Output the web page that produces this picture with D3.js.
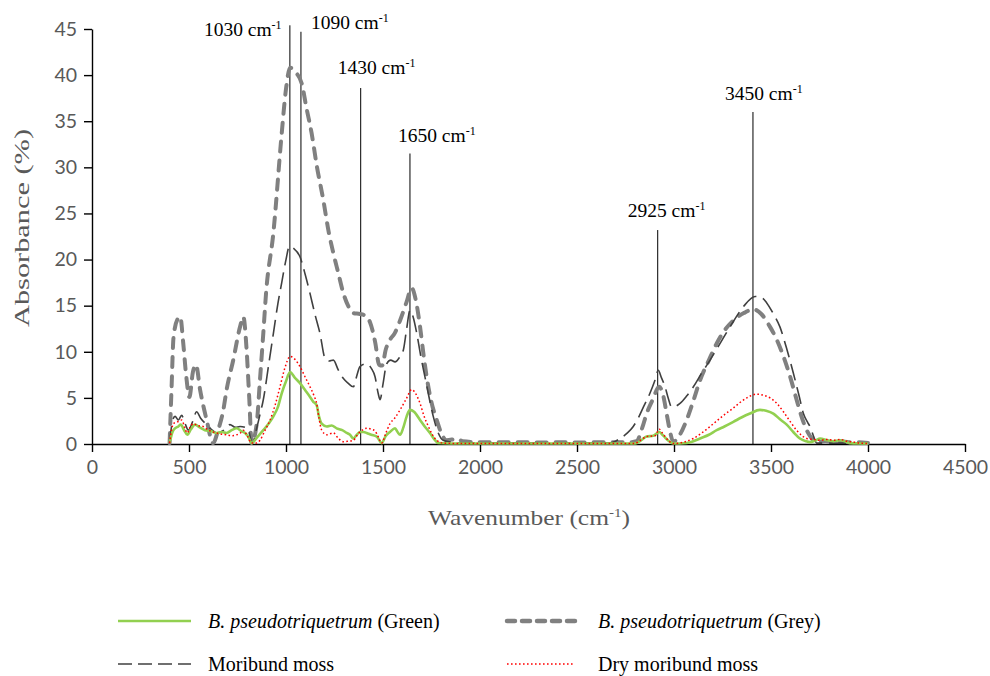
<!DOCTYPE html>
<html>
<head>
<meta charset="utf-8">
<script src="https://cdn.jsdelivr.net/npm/d3@7"></script>
<style>
  body { margin: 0; background: #fff; }
  svg { display: block; }
</style>
</head>
<body>
<div class="chart"></div>
<script>
// FTIR absorbance spectra, four moss samples

var xTicks = [0, 500, 1000, 1500, 2000, 2500, 3000, 3500, 4000, 4500];
var yTicks = [0, 5, 10, 15, 20, 25, 30, 35, 40, 45];

// B. pseudotriquetrum (Green)
var greenWn  = [400,415,428,445,457,475,491,510,531,555,582,610,643,670,694,720,746,770,789,805,823,850,883,910,935,958,978,1000,1021,1045,1072,1100,1124,1140,1158,1170,1184,1210,1235,1261,1290,1313,1330,1347,1365,1381,1400,1416,1440,1468,1493,1515,1536,1562,1575,1588,1605,1622,1639,1660,1691,1715,1742,1765,1785,1850,2000,2400,2800,2830,2859,2893,2924,2940,2954,2975,2996,3030,3065,3100,3134,3180,3220,3260,3306,3350,3392,3443,3475,3512,3545,3581,3615,3649,3680,3701,3730,3753,3790,3821,3856,3880,3907,4000];
var greenAbs = [0.1,1.3,1.7,1.9,2.1,1.5,1.0,1.6,2.1,1.8,1.5,1.4,1.2,1.3,1.2,1.5,1.7,1.4,1.2,0.8,0.1,0.7,1.5,2.2,3.0,4.0,5.5,6.8,7.8,7.2,6.6,5.8,5.1,4.6,4.2,3.0,2.2,1.9,2.0,1.7,1.5,1.2,1.0,0.6,1.0,1.3,1.3,1.2,1.0,0.8,0.1,0.9,1.3,1.7,1.3,1.0,1.8,3.0,3.7,3.5,2.6,1.9,1.2,0.5,0.1,0.05,0.05,0.05,0.05,0.4,0.8,0.9,1.3,1.0,0.7,0.3,0.05,0.05,0.1,0.3,0.6,1.0,1.5,1.9,2.4,2.9,3.3,3.7,3.6,3.3,2.7,2.1,1.3,0.6,0.3,0.2,0.4,0.6,0.4,0.3,0.4,0.3,0.1,0.05];

// B. pseudotriquetrum (Grey)
var greyWn  = [400,410,420,440,455,470,485,502,520,536,557,591,624,650,677,694,728,763,780,797,811,823,849,866,883,897,935,978,1000,1021,1050,1081,1105,1132,1160,1192,1220,1244,1270,1295,1320,1347,1381,1410,1433,1460,1480,1495,1515,1536,1560,1588,1620,1648,1670,1691,1710,1725,1750,1777,1800,1828,1860,1880,1910,2000,2100,2200,2300,2400,2500,2600,2700,2780,2807,2840,2859,2890,2924,2945,2962,2980,2996,3030,3065,3100,3134,3180,3220,3260,3306,3360,3409,3450,3495,3530,3564,3600,3632,3660,3684,3710,3736,3780,3820,3860,3900,3950,4000];
var greyAbs = [0.1,6,11.5,13.5,13.8,11,7.5,5.1,7.8,8.6,5.9,2.6,0.1,1.5,3.7,5.9,9.1,12.7,13.8,10.2,4.8,0.1,2.2,7,12,16.3,22.9,33.7,38.5,40.8,40.3,39.1,36.5,33.7,30,26.5,23,20.7,18.5,16.4,15,14.2,14.1,13.9,13.2,11,8.6,8.5,10.3,11.3,12,13.4,15.3,16.9,15.5,12.7,9.5,7.3,4.5,2.6,1.2,0.4,0.5,0.6,0.3,0.2,0.2,0.2,0.15,0.2,0.15,0.2,0.2,0.2,0.3,2.0,3.3,4.8,6.2,5.2,3.3,1.3,0.25,1.0,2.6,4.7,6.9,9.1,10.9,12.3,13.4,14.2,14.6,14.1,12.7,11.3,9.5,7.2,4.8,2.8,1.5,0.6,0.2,0.3,0.2,0.3,0.2,0.2,0.1];

// Moribund moss
var moriWn  = [400,415,428,445,462,480,497,520,539,560,591,615,643,680,711,740,763,790,806,826,850,866,883,910,935,958,978,1000,1017,1040,1072,1100,1124,1150,1175,1201,1222,1244,1270,1296,1320,1347,1365,1381,1416,1440,1459,1475,1485,1500,1519,1540,1562,1585,1605,1622,1639,1655,1674,1695,1716,1740,1759,1785,1810,1850,1900,2200,2600,2670,2722,2760,2790,2820,2842,2876,2900,2919,2935,2954,2970,2988,3010,3031,3065,3100,3140,3186,3240,3289,3358,3418,3450,3478,3510,3546,3580,3615,3645,3667,3690,3701,3720,3736,3800,4000];
var moriAbs = [0.1,2.5,3.0,2.6,3.1,2.2,1.5,2.5,3.5,2.8,2.1,1.6,1.2,1.5,2.1,1.8,1.9,1.8,1.5,0.1,1.8,3.2,4.8,8.5,12,15.2,17.5,20,21.4,21.2,20.3,18.3,16.3,14,12,9.3,9.0,9.1,8.0,7.1,6.6,6.2,7.4,8.4,8.7,8.2,7.3,5.5,4.8,6.5,8.7,9.1,8.9,9.4,10.2,12.5,14.5,13.8,12,9.5,7.3,4.8,3,1.2,0.4,0.2,0.1,0.1,0.1,0.1,0.6,1.2,1.9,3.0,4.0,5.5,6.8,8.0,7.2,6.2,5.0,4.0,4.1,4.4,5.2,6.2,7.6,9.1,11.0,12.7,14.9,16.0,15.9,15.3,14.2,12.7,10.4,7.7,5.2,3.3,2.3,1.9,0.8,0.1,0.1,0.1];

// Dry moribund moss
var dryWn  = [400,410,419,440,462,478,491,505,522,545,573,600,625,660,694,720,746,765,780,800,823,845,866,890,918,945,969,995,1021,1045,1072,1100,1124,1145,1158,1170,1184,1210,1244,1270,1296,1320,1347,1365,1381,1400,1416,1440,1459,1475,1493,1515,1536,1560,1588,1620,1648,1670,1691,1712,1734,1755,1777,1810,1900,2400,2800,2813,2859,2902,2924,2940,2954,2975,2996,3050,3100,3150,3203,3255,3306,3340,3375,3426,3460,3495,3530,3564,3600,3632,3660,3684,3720,3753,3790,3821,3856,3890,3930,3959,4000];
var dryAbs = [0.1,1.5,2.2,2.4,2.6,1.8,1.2,1.8,2.2,2.0,1.9,1.5,1.3,1.1,1.0,0.9,1.0,1.2,1.5,0.9,0.1,0.1,0.4,1.4,2.6,4.3,6.2,8.3,9.5,9.2,8.4,7.2,6.2,5.2,4.4,2.8,1.5,1.0,1.2,0.6,0.25,0.3,0.4,0.9,1.3,1.6,1.7,1.6,1.4,0.8,0.1,1.2,2.2,2.8,3.7,4.9,5.9,5.4,4.4,3.0,1.9,1.0,0.4,0.1,0.05,0.05,0.05,0.2,0.8,0.9,1.6,1.2,0.8,0.3,0.05,0.2,0.6,1.3,2.2,3.1,3.9,4.5,5.0,5.4,5.3,5.0,4.4,3.5,2.4,1.5,0.9,0.6,0.5,0.4,0.5,0.4,0.5,0.3,0.2,0.1,0.05];

// peak markers: label, where the line is drawn, how high it goes
var markerLabels = ['1030', '1090', '1430', '1650', '2925', '3450'];
var markerWn     = [1020, 1077, 1385, 1639, 2916, 3407];
var markerTop    = [45.4, 44.7, 38.6, 31.5, 23.2, 36.0];

var legendNames = ['B. pseudotriquetrum', 'B. pseudotriquetrum', 'Moribund moss', 'Dry moribund moss'];
var legendExtra = [' (Green)', ' (Grey)', '', ''];

var width = 990, height = 676;

var svg = d3.select('.chart').append('svg')
  .attr('width', width)
  .attr('height', height);

var x = d3.scaleLinear().domain([0, 4500]).range([92, 965]);
var y = d3.scaleLinear().domain([0, 45]).range([444, 29]);

var serif = '"Liberation Serif", "Times New Roman", serif';
var tickFont = 'Lato, "Open Sans", sans-serif';

// axes
var yAxis = svg.append('g')
  .attr('transform', 'translate(' + x(0) + ',0)')
  .call(d3.axisLeft(y).tickValues(yTicks).tickFormat(d3.format('d'))
    .tickSize(8).tickSizeOuter(0).tickPadding(7));

var xAxis = svg.append('g')
  .attr('transform', 'translate(0,' + y(0) + ')')
  .call(d3.axisBottom(x).tickValues(xTicks).tickFormat(d3.format('d'))
    .tickSize(8).tickSizeOuter(0).tickPadding(8));

[xAxis, yAxis].forEach(function (g) {
  g.select('.domain').attr('stroke', '#000').attr('stroke-width', 1.4);
  g.selectAll('.tick line').attr('stroke', '#000').attr('stroke-width', 1.4);
  g.selectAll('.tick text')
    .attr('fill', '#595959')
    .style('font-family', tickFont)
    .style('font-size', '19.5px');
});

// axis titles
svg.append('text')
  .attr('transform', 'translate(29,' + 228 + ') rotate(-90)')
  .attr('text-anchor', 'middle')
  .attr('fill', '#595959')
  .attr('textLength', 198)
  .attr('lengthAdjust', 'spacingAndGlyphs')
  .style('font-family', serif)
  .style('font-size', '22px')
  .text('Absorbance (%)');

var xTitle = svg.append('text')
  .attr('x', 428)
  .attr('y', 525)
  .attr('fill', '#595959')
  .attr('textLength', 202)
  .attr('lengthAdjust', 'spacingAndGlyphs')
  .style('font-family', serif)
  .style('font-size', '22px');
xTitle.append('tspan').text('Wavenumber (cm');
xTitle.append('tspan').attr('dy', -8).style('font-size', '13px').text('-1');
xTitle.append('tspan').attr('dy', 8).text(')');

// marker lines
var labelDx = [-86, 10, -23, -12, -30, -28];
var labelDy = [11, -3, -14, -12, -13, -12];

markerWn.forEach(function (wn, i) {
  svg.append('line')
    .attr('x1', x(wn)).attr('x2', x(wn))
    .attr('y1', y(markerTop[i])).attr('y2', y(0))
    .attr('stroke', '#000')
    .attr('stroke-width', 1);

  var t = svg.append('text')
    .attr('x', x(wn) + labelDx[i])
    .attr('y', y(markerTop[i]) + labelDy[i])
    .attr('fill', '#000')
    .style('font-family', serif)
    .style('font-size', '19.5px');
  t.append('tspan').text(markerLabels[i] + ' cm');
  t.append('tspan').attr('dy', -7).style('font-size', '12px').text('-1');
});

// series
var styles = [
  { color: '#808080', width: 4,   dash: '10,9', cap: 'round' },
  { color: '#404040', width: 1.6, dash: '17,7', cap: 'butt' },
  { color: '#92D050', width: 2.6, dash: null,   cap: 'butt' },
  { color: '#ff0000', width: 1.5, dash: '1.6,2.4', cap: 'butt' }
];

var seriesData = [
  d3.zip(greyWn, greyAbs),
  d3.zip(moriWn, moriAbs),
  d3.zip(greenWn, greenAbs),
  d3.zip(dryWn, dryAbs)
];

var line = d3.line()
  .x(function (d) { return x(d[0]); })
  .y(function (d) { return y(d[1]); })
  .curve(d3.curveMonotoneX);

svg.selectAll('path.series')
  .data(seriesData)
  .enter()
  .append('path')
  .attr('class', 'series')
  .attr('d', line)
  .attr('fill', 'none')
  .attr('stroke', function (d, i) { return styles[i].color; })
  .attr('stroke-width', function (d, i) { return styles[i].width; })
  .attr('stroke-dasharray', function (d, i) { return styles[i].dash; })
  .attr('stroke-linecap', function (d, i) { return styles[i].cap; })
  .attr('stroke-linejoin', 'round');

// legend: green, grey, moribund, dry
var legendStyle = [styles[2], styles[0], styles[1], styles[3]];
var legendPos = [
  { x1: 118, x2: 191, tx: 208, y: 621 },
  { x1: 507, x2: 578, tx: 598, y: 621 },
  { x1: 118, x2: 191, tx: 208, y: 664 },
  { x1: 507, x2: 575, tx: 598, y: 664 }
];

legendNames.forEach(function (name, i) {
  var p = legendPos[i], s = legendStyle[i];
  svg.append('line')
    .attr('x1', p.x1).attr('x2', p.x2)
    .attr('y1', p.y).attr('y2', p.y)
    .attr('stroke', s.color)
    .attr('stroke-width', i == 1 ? 4.5 : s.width)
    .attr('stroke-dasharray', i == 1 ? '8,7' : (i == 2 ? '14,6' : s.dash))
    .attr('stroke-linecap', s.cap);

  var t = svg.append('text')
    .attr('x', p.tx)
    .attr('y', p.y + 7)
    .attr('fill', '#000')
    .style('font-family', serif)
    .style('font-size', '20px');
  t.append('tspan')
    .style('font-style', i < 2 ? 'italic' : 'normal')
    .text(name);
  t.append('tspan').text(legendExtra[i]);
});
</script>
</body>
</html>
